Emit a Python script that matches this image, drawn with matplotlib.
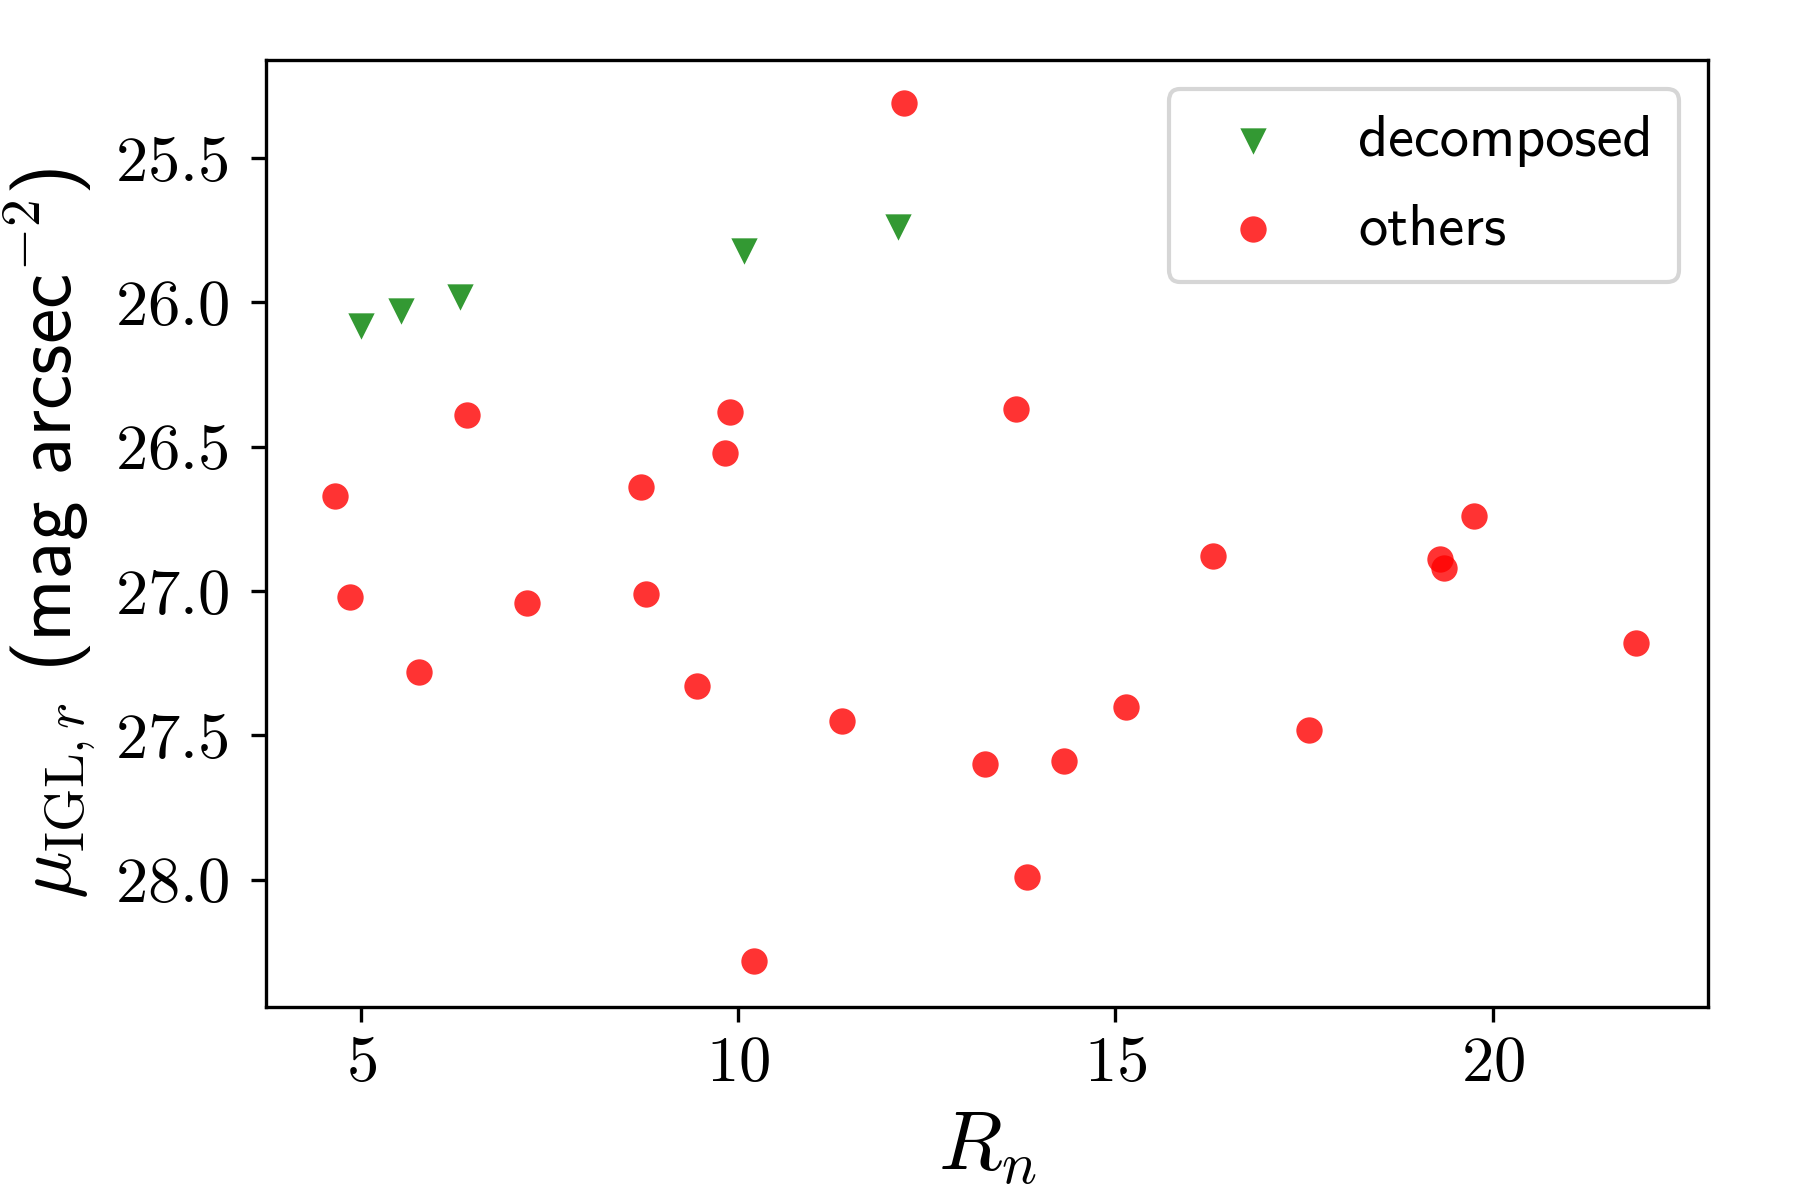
import numpy as np
import matplotlib
matplotlib.use('Agg')
import matplotlib.pyplot as plt
from matplotlib.ticker import FuncFormatter

plt.rcParams['mathtext.fontset'] = 'cm'
plt.rcParams['font.family'] = ['cmss10', 'DejaVu Sans']
plt.rcParams['axes.unicode_minus'] = False

""" decomposed groups """
rn_dec = [5.0, 5.53, 6.31, 10.08, 12.11]
mu_dec = [26.08, 26.03, 25.98, 25.82, 25.74]

""" other groups """
rn_oth = [12.20, 6.40, 9.89, 13.68, 9.82, 4.65, 8.71, 4.85, 7.19, 8.77,
          5.76, 9.45, 11.37, 13.27, 14.32, 15.14, 13.83, 10.21, 16.29, 17.57,
          19.30, 19.36, 19.76, 21.90]
mu_oth = [25.31, 26.39, 26.38, 26.37, 26.52, 26.67, 26.64, 27.02, 27.04, 27.01,
          27.28, 27.33, 27.45, 27.60, 27.59, 27.40, 27.99, 28.28, 26.88, 27.48,
          26.89, 26.92, 26.74, 27.18]

fig = plt.figure(figsize=(6, 4), dpi=300)
ax = fig.add_axes([0.148, 0.161, 0.801, 0.789])

ax.scatter(rn_dec, mu_dec, marker='v', s=40, color='green', alpha=0.8,
           linewidths=0, label='decomposed')
ax.scatter(rn_oth, mu_oth, marker='o', s=40, color='red', alpha=0.8,
           linewidths=0, label='others')

ax.set_xlim(3.74, 22.86)
ax.set_ylim(28.44, 25.16)
ax.set_xticks([5, 10, 15, 20])
ax.set_yticks([25.5, 26.0, 26.5, 27.0, 27.5, 28.0])
ax.xaxis.set_major_formatter(FuncFormatter(lambda v, p: r'$%d$' % v))
ax.yaxis.set_major_formatter(FuncFormatter(lambda v, p: r'$%.1f$' % v))
ax.tick_params(labelsize=15.5)
ax.tick_params(axis='y', pad=5.5)

ax.set_xlabel(r'$R_n$', fontsize=20)
ax.set_ylabel(r'$\mu_{\rm IGL,\mathit{r}}$ (mag arcsec$^{-2}$)', fontsize=19)

ax.legend(loc='upper right', fontsize=14, labelspacing=0.62, borderpad=0.45)

plt.savefig('out.png', dpi=300)
